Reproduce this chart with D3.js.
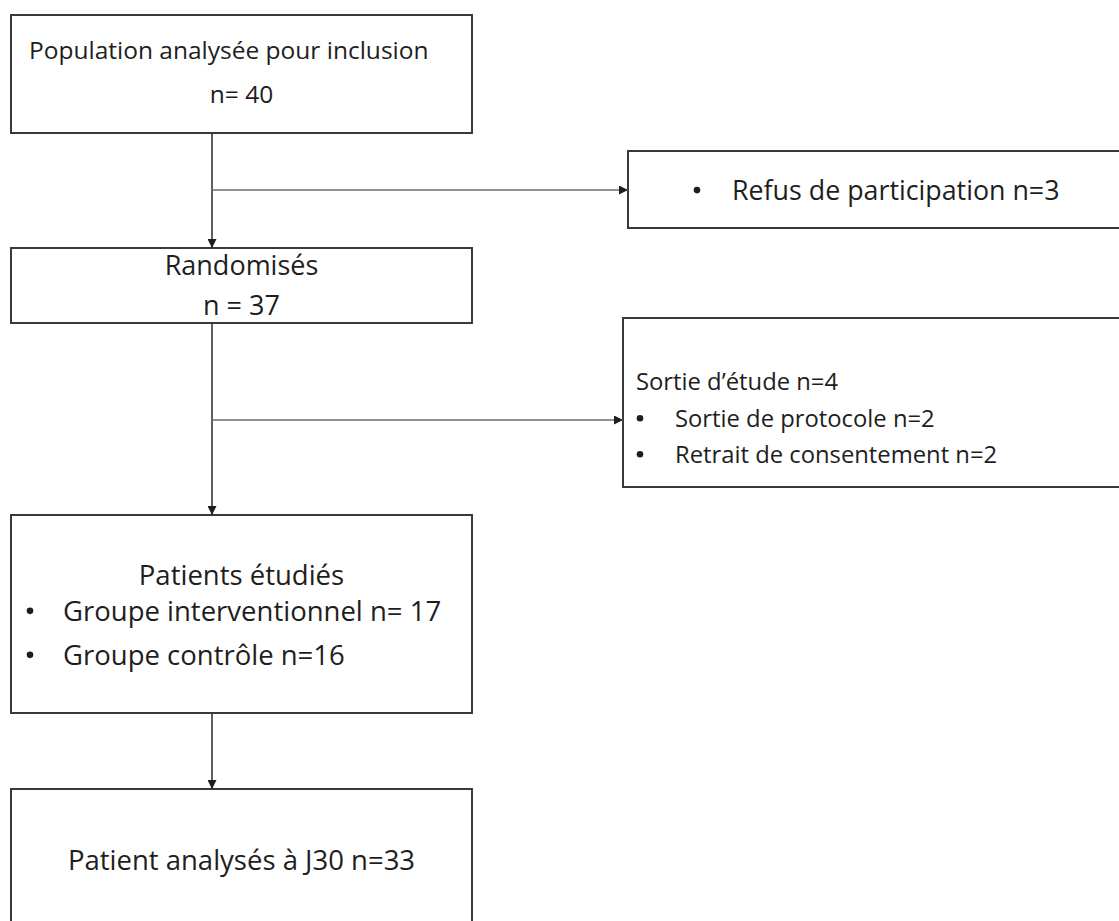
<!DOCTYPE html>
<html>
<head>
<meta charset="utf-8">
<script src="https://cdn.jsdelivr.net/npm/d3@7"></script>
<style>
  body { margin: 0; background: #fff; }
  .lbl { font-family: "Open Sans", "Noto Sans", sans-serif; fill: #1e1e1e; }
</style>
</head>
<body>
<div id="chart"></div>
<script>
// Flow counts
var nScreened = 40;
var nRefused = 3;
var nRandomised = 37;
var nWithdrawn = 4;
var nOffProtocol = 2;
var nConsentWithdrawn = 2;
var nIntervention = 17;
var nControl = 16;
var nAnalysedJ30 = 33;

// Text of the main column boxes (kind: left / center / bullet)
var mainBoxes = [
  [{t: "Population analysée pour inclusion", k: "left"}, {t: "n= " + nScreened, k: "center"}],
  [{t: "Randomisés", k: "center"}, {t: "n = " + nRandomised, k: "center"}],
  [{t: "Patients étudiés", k: "center"},
   {t: "Groupe interventionnel n= " + nIntervention, k: "bullet"},
   {t: "Groupe contrôle n=" + nControl, k: "bullet"}],
  [{t: "Patient analysés à J30 n=" + nAnalysedJ30, k: "center"}]
];

// Text of the side (exclusion) boxes
var sideBoxes = [
  [{t: "Refus de participation n=" + nRefused, k: "bullet"}],
  [{t: "Sortie d\u2019étude n=" + nWithdrawn, k: "left"},
   {t: "Sortie de protocole n=" + nOffProtocol, k: "bullet"},
   {t: "Retrait de consentement n=" + nConsentWithdrawn, k: "bullet"}]
];

var svgWidth = 1119;
var svgHeight = 921;

var svg = d3.select("#chart")
  .append("svg")
  .attr("width", svgWidth)
  .attr("height", svgHeight);

svg.append("defs").append("marker")
  .attr("id", "arrow")
  .attr("viewBox", "0 0 10 10")
  .attr("refX", 10).attr("refY", 5)
  .attr("markerWidth", 9).attr("markerHeight", 9)
  .attr("markerUnits", "userSpaceOnUse")
  .attr("orient", "auto")
  .append("path")
  .attr("d", "M0,0 L10,5 L0,10 Z")
  .attr("fill", "#1e1e1e");

// layout: main column
var mainX = 11, mainW = 461;
var trunkX = 212;
var mainY = [[15, 133], [248, 323], [515, 713], [789, 950]];
var mainBase = [[59, 103], [275, 315], [585, 621, 665], [870]];
var mainFont = [24.5, 27, 27.5, 27.5];

// side column
var sideX = [628, 623];
var sideY = [[151, 228], [318, 487]];
var sideBase = [[200], [390, 427, 463]];
var sideFont = [26.8, 23.8];
var branchY = [190, 420];

var boxStroke = "#3a3a3a";

// main boxes
svg.selectAll("rect.main").data(mainBoxes).enter()
  .append("rect")
  .attr("class", "main")
  .attr("x", mainX)
  .attr("y", (d, i) => mainY[i][0])
  .attr("width", mainW)
  .attr("height", (d, i) => mainY[i][1] - mainY[i][0])
  .attr("fill", "#fff")
  .attr("stroke", boxStroke)
  .attr("stroke-width", 2);

// side boxes
svg.selectAll("rect.side").data(sideBoxes).enter()
  .append("rect")
  .attr("class", "side")
  .attr("x", (d, i) => sideX[i])
  .attr("y", (d, i) => sideY[i][0])
  .attr("width", (d, i) => svgWidth + 20 - sideX[i])
  .attr("height", (d, i) => sideY[i][1] - sideY[i][0])
  .attr("fill", "#fff")
  .attr("stroke", boxStroke)
  .attr("stroke-width", 2);

// vertical arrows between main boxes
svg.selectAll("line.down").data(mainBoxes.slice(1)).enter()
  .append("line")
  .attr("class", "down")
  .attr("x1", trunkX).attr("x2", trunkX)
  .attr("y1", (d, i) => mainY[i][1])
  .attr("y2", (d, i) => mainY[i + 1][0])
  .attr("stroke", "#2a2a2a")
  .attr("stroke-width", 1.5)
  .attr("marker-end", "url(#arrow)");

// horizontal branches to exclusion boxes
svg.selectAll("line.branch").data(sideBoxes).enter()
  .append("line")
  .attr("class", "branch")
  .attr("x1", trunkX)
  .attr("x2", (d, i) => sideX[i])
  .attr("y1", (d, i) => branchY[i])
  .attr("y2", (d, i) => branchY[i])
  .attr("stroke", "#6e6e6e")
  .attr("stroke-width", 1.6)
  .attr("marker-end", "url(#arrow)");

// text writer
function writeLines(lines, left, width, bases, size, opts) {
  lines.forEach(function(line, j) {
    var y = bases[j];
    if (line.k === "center") {
      svg.append("text").attr("class", "lbl")
        .attr("font-size", size)
        .attr("x", left + width / 2).attr("y", y)
        .attr("text-anchor", "middle").text(line.t);
    } else if (line.k === "left") {
      svg.append("text").attr("class", "lbl")
        .attr("font-size", size)
        .attr("x", left + opts.pad).attr("y", y).text(line.t);
    } else {
      svg.append("circle")
        .attr("cx", left + opts.bullet).attr("cy", y - size * 0.37)
        .attr("r", 3.3).attr("fill", "#1e1e1e");
      svg.append("text").attr("class", "lbl")
        .attr("font-size", size)
        .attr("x", left + opts.indent).attr("y", y).text(line.t);
    }
  });
}

mainBoxes.forEach(function(lines, i) {
  writeLines(lines, mainX, mainW, mainBase[i], mainFont[i], {pad: 18, bullet: 19, indent: 52});
});
writeLines(sideBoxes[0], sideX[0], 0, sideBase[0], sideFont[0], {pad: 13, bullet: 69, indent: 104});
writeLines(sideBoxes[1], sideX[1], 0, sideBase[1], sideFont[1], {pad: 13, bullet: 17, indent: 52});
</script>
</body>
</html>
